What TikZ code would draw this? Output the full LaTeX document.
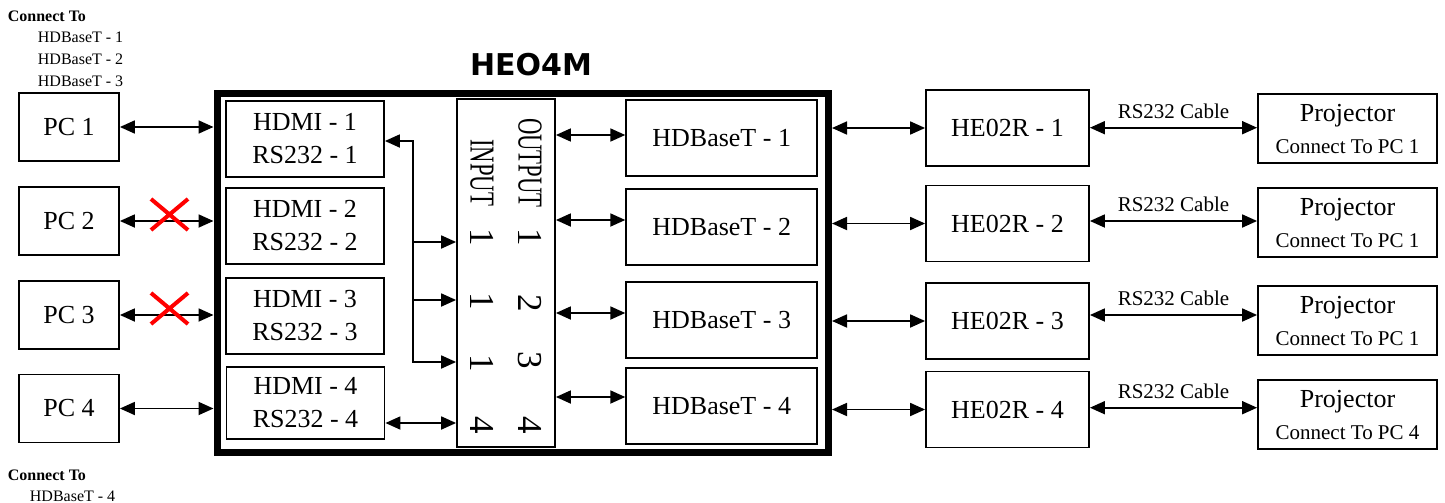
\documentclass[tikz,border=0pt]{standalone}
\usepackage{fontspec}
\setmainfont{Liberation Serif}
\newfontfamily\titlefont{DejaVu Sans}
\usepackage{graphicx}
\usetikzlibrary{positioning, arrows.meta, shapes.misc}

\begin{document}
\begin{tikzpicture}
        [x=1pt, y=-1pt, line width=1.8pt,
         box/.style={draw, rectangle, inner sep=0pt, align=center, font=\fontsize{26}{33}\selectfont},
         pcbox/.style={box, minimum width=100pt, minimum height=68pt},
         portbox/.style={box, minimum width=158pt, minimum height=76pt},
         hdbbox/.style={box, minimum width=191pt, minimum height=76pt},
         rxbox/.style={box, minimum width=163pt, minimum height=76pt},
         projbox/.style={box, minimum width=179pt, minimum height=69pt, font=\fontsize{26}{32}\selectfont},
         note/.style={anchor=base west, inner sep=0pt, font=\fontsize{16}{19}\selectfont},
         cable/.style={above=8pt, inner sep=0pt, font=\fontsize{21}{25}\selectfont},
         vtext/.style={rotate=-90, inner sep=0pt, font=\fontsize{35}{40}\selectfont},
         blocked/.style={cross out, draw=red, line width=4pt, inner sep=0pt, minimum width=33pt, minimum height=27pt},
         >={Triangle[length=15pt, width=13pt]}]
        \useasboundingbox (0,0) rectangle (1445,503);

        \node[note, font=\fontsize{16}{19}\selectfont\bfseries] (top) at (7,22) {Connect To};
        \node[note] (topa) at (37,43) {HDBaseT - 1};
        \node[note] (topb) at (37,65) {HDBaseT - 2};
        \node[note] (topc) at (37,86) {HDBaseT - 3};
        \node[note, font=\fontsize{16}{19}\selectfont\bfseries] (bottom) at (7,480) {Connect To};
        \node[note] (bottoma) at (29,501) {HDBaseT - 4};

        \node[font=\titlefont\bfseries\fontsize{30}{36}\selectfont] (title) at (531,64.5) {HEO4M};
        \node[draw, line width=7pt, inner sep=0pt, minimum width=611.5pt, minimum height=359pt] (heo) at (522.75,272.5) {};

        \node[pcbox] (pc1) at (69,127) {PC 1};
        \node[pcbox] (pc2) at (69,221) {PC 2};
        \node[pcbox] (pc3) at (69,315) {PC 3};
        \node[pcbox] (pc4) at (69,408.5) {PC 4};

        \path [<->] (pc1.east) edge (heo.west |- pc1.east);
        \path [<->] (pc2.east) edge (heo.west |- pc2.east);
        \path [<->] (pc3.east) edge (heo.west |- pc3.east);
        \path [<->] (pc4.east) edge (heo.west |- pc4.east);
        \node[blocked] (cut2) at (169.5,214.5) {};
        \node[blocked] (cut3) at (169.5,308.5) {};

        \node[portbox] (hdmi1) at (305,138.7) {HDMI - 1\\RS232 - 1};
        \node[portbox] (hdmi2) at (305,226) {HDMI - 2\\RS232 - 2};
        \node[portbox] (hdmi3) at (305,316) {HDMI - 3\\RS232 - 3};
        \node[portbox, minimum height=72pt] (hdmi4) at (305.5,403) {HDMI - 4\\RS232 - 4};

        \node[draw, inner sep=0pt, minimum width=98pt, minimum height=348pt] (io) at (506,273.3) {};
        \node[vtext] (outlbl) at (530,163) {\scalebox{0.65}[1]{OUTPUT}};
        \node[vtext] (inlbl) at (482,172.5) {\scalebox{0.65}[1]{INPUT}};
        \node[vtext] (out1) at (530,237) {1};
        \node[vtext] (out2) at (530,303) {2};
        \node[vtext] (out3) at (530,360) {3};
        \node[vtext] (out4) at (530,425) {4};
        \node[vtext] (in1) at (482,237) {1};
        \node[vtext] (in2) at (482,301) {1};
        \node[vtext] (in3) at (482,363) {1};
        \node[vtext] (in4) at (482,425) {4};

        \coordinate (bus1) at (413,242);
        \coordinate (bus2) at (413,300);
        \coordinate (bus3) at (413,362);
        \draw [<->] (hdmi1.east |- 0,141) -| (bus3) -- (io.west |- bus3);
        \draw [->] (bus1) -- (io.west |- bus1);
        \draw [->] (bus2) -- (io.west |- bus2);
        \path [<->] (hdmi4.east |- 0,423) edge (io.west |- 0,423);

        \node[hdbbox] (hdb1) at (721.7,138) {HDBaseT - 1};
        \node[hdbbox] (hdb2) at (721.7,226.7) {HDBaseT - 2};
        \node[hdbbox] (hdb3) at (721.7,320) {HDBaseT - 3};
        \node[hdbbox] (hdb4) at (721.7,406) {HDBaseT - 4};

        \path [<->] (io.east |- 0,135) edge (hdb1.west |- 0,135);
        \path [<->] (io.east |- 0,220) edge (hdb2.west |- 0,220);
        \path [<->] (io.east |- 0,313) edge (hdb3.west |- 0,313);
        \path [<->] (io.east |- 0,397) edge (hdb4.west |- 0,397);

        \node[rxbox] (he1) at (1007.5,128) {HE02R - 1};
        \node[rxbox] (he2) at (1007.5,223.5) {HE02R - 2};
        \node[rxbox] (he3) at (1007.5,321) {HE02R - 3};
        \node[rxbox] (he4) at (1007.5,409.5) {HE02R - 4};

        \path [<->] (heo.east |- he1.west) edge (he1.west);
        \path [<->] (heo.east |- he2.west) edge (he2.west);
        \path [<->] (heo.east |- he3.west) edge (he3.west);
        \path [<->] (heo.east |- he4.west) edge (he4.west);

        \node[projbox] (pj1) at (1347.5,128.5) {Projector\\{\fontsize{21}{25}\selectfont Connect To PC 1}};
        \node[projbox] (pj2) at (1347.5,222.5) {Projector\\{\fontsize{21}{25}\selectfont Connect To PC 1}};
        \node[projbox] (pj3) at (1347.5,320.5) {Projector\\{\fontsize{21}{25}\selectfont Connect To PC 1}};
        \node[projbox] (pj4) at (1347.5,414.5) {Projector\\{\fontsize{21}{25}\selectfont Connect To PC 4}};

        \path [<->] (he1.east |- 0,127.7) edge node[cable] {RS232 Cable} (pj1.west |- 0,127.7);
        \path [<->] (he2.east |- 0,221) edge node[cable] {RS232 Cable} (pj2.west |- 0,221);
        \path [<->] (he3.east |- 0,315) edge node[cable] {RS232 Cable} (pj3.west |- 0,315);
        \path [<->] (he4.east |- 0,407.7) edge node[cable] {RS232 Cable} (pj4.west |- 0,407.7);
\end{tikzpicture}
\end{document}
